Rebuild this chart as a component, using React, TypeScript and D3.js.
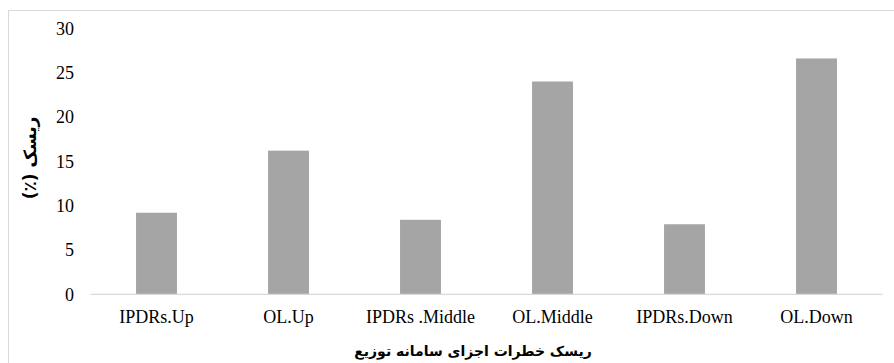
import React, { useEffect, useRef } from "react";
import * as d3 from "d3";

const categories = ["IPDRs.Up", "OL.Up", "IPDRs .Middle", "OL.Middle", "IPDRs.Down", "OL.Down"];
const values = [9.2, 16.2, 8.4, 24.0, 7.9, 26.6];
const yTicks = [0, 5, 10, 15, 20, 25, 30];
const yTitle = "ریسک (٪)";
const xTitle = "ریسک خطرات اجزای سامانه توزیع";

const W = 894;
const H = 363;

export default function App() {
  const ref = useRef<SVGSVGElement | null>(null);

  useEffect(() => {
    const svg = d3.select(ref.current);
    svg.selectAll("*").remove();

    const x = d3.scaleBand<string>().domain(categories).range([90.5, 882.5]).padding(0);
    const y = d3.scaleLinear().domain([0, 30]).range([294.3, 28.3]);
    const barW = x.bandwidth() * 0.31;

    // chart border
    svg.append("rect")
      .attr("x", 8.5).attr("y", 10.5)
      .attr("width", 960).attr("height", 420)
      .attr("fill", "#fff")
      .attr("stroke", "#d9d9d9").attr("stroke-width", 1);

    // bars
    svg.append("g").selectAll("rect")
      .data(categories)
      .join("rect")
      .attr("x", (d) => (x(d) as number) + x.bandwidth() / 2 - barW / 2)
      .attr("width", barW)
      .attr("y", (d, i) => y(values[i]))
      .attr("height", (d, i) => y(0) - y(values[i]))
      .attr("fill", "#a5a5a5");

    // baseline
    svg.append("line")
      .attr("x1", 90.5).attr("x2", 882.5)
      .attr("y1", y(0)).attr("y2", y(0))
      .attr("stroke", "#d9d9d9").attr("stroke-width", 1.3);

    // y tick labels
    svg.append("g").selectAll("text")
      .data(yTicks)
      .join("text")
      .attr("x", 74)
      .attr("y", (d) => y(d))
      .attr("dy", "0.35em")
      .attr("text-anchor", "end")
      .attr("font-family", "'Liberation Serif', 'Times New Roman', serif")
      .attr("font-size", 18)
      .attr("fill", "#000")
      .text((d) => String(d));

    // x tick labels
    svg.append("g").selectAll("text")
      .data(categories)
      .join("text")
      .attr("x", (d) => (x(d) as number) + x.bandwidth() / 2)
      .attr("y", 323)
      .attr("text-anchor", "middle")
      .attr("font-family", "'Liberation Serif', 'Times New Roman', serif")
      .attr("font-size", 18)
      .attr("fill", "#000")
      .text((d) => d);

    // x title
    svg.append("text")
      .attr("x", 473)
      .attr("y", 356)
      .attr("text-anchor", "middle")
      .attr("direction", "rtl")
      .attr("font-family", "'DejaVu Sans', sans-serif")
      .attr("font-weight", "bold")
      .attr("font-size", 14)
      .attr("fill", "#000")
      .text(xTitle);

    // y title
    svg.append("text")
      .attr("transform", "translate(36,158) rotate(-90)")
      .attr("text-anchor", "middle")
      .attr("direction", "rtl")
      .attr("font-family", "'DejaVu Sans', sans-serif")
      .attr("font-weight", "bold")
      .attr("font-size", 17)
      .attr("fill", "#000")
      .text(yTitle);
  }, []);

  return (
    <svg
      ref={ref}
      width={W}
      height={H}
      style={{ position: "absolute", left: 0, top: 0, display: "block", background: "#fff" }}
    />
  );
}
